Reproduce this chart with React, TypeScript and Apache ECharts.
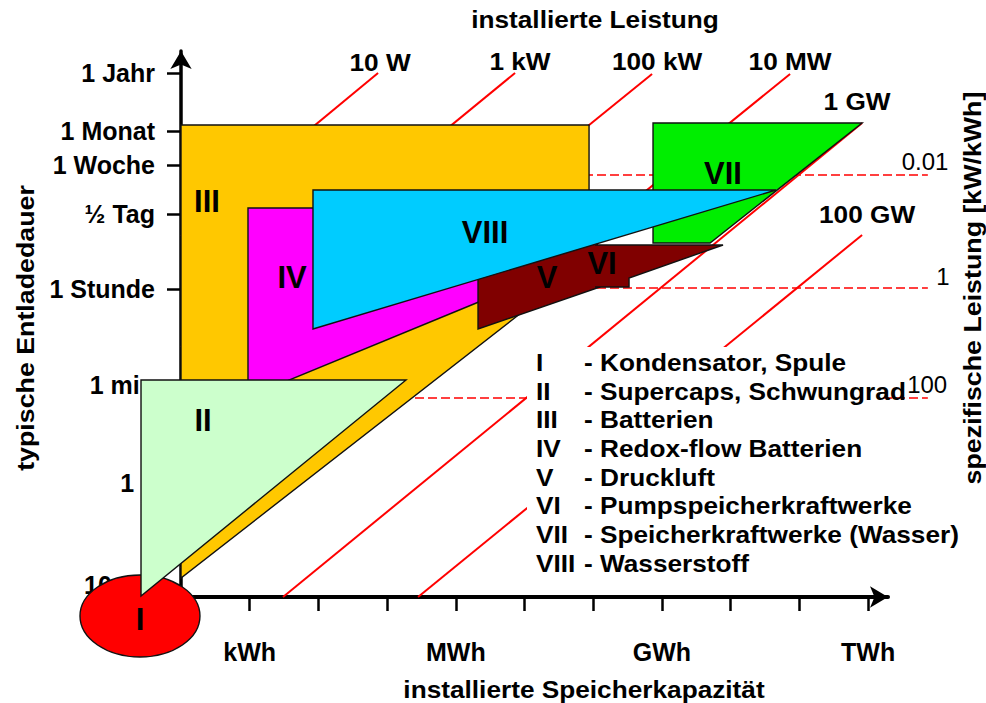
import React, { useEffect, useRef } from 'react';
import * as echarts from 'echarts';

const FONT = '"Liberation Sans", Arial, Helvetica, sans-serif';
const WIDEN = 1.14;

// Horizontal axis: log10 of installed storage capacity (Wh)
const xTickValues = [3, 4, 5, 6, 7, 8, 9, 10, 11, 12];
const xLabelValues = [3, 6, 9, 12];
const xLabels = ['kWh', 'MWh', 'GWh', 'TWh'];

// Vertical axis: typical discharge duration (position on the drawn scale)
const yTickValues = [1.2, 11.4, 21.2, 30.8, 38.3, 43.2, 46.6, 52.4];
const yLabels = ['10 ms', '1 s', '1 min', '1 Stunde', '½ Tag', '1 Woche', '1 Monat', '1 Jahr'];

// Technology regions [x, y]
const regionICenter = [1.403, -1.9];
const regionIRadius = [0.873, 4.1];
const regionII = [[1.418, 21.7], [5.275, 21.7], [1.418, 0.1]];
const regionIII = [[2, 47.2], [7.939, 47.2], [7.939, 33.7], [2, 1.9]];
const regionIV = [[2.975, 38.9], [6.934, 38.9], [6.934, 31.2], [2.975, 20.0]];
const regionV = [[6.323, 32.1], [8.055, 35.6], [8.099, 31.0], [6.323, 26.8]];
const regionVI = [[8.026, 35.2], [9.889, 35.2], [8.521, 31.9], [8.521, 31.0], [8.026, 31.0]];
const regionVII = [[8.87, 47.4], [11.913, 47.4], [9.7, 35.4], [8.87, 35.4]];
const regionVIII = [[3.921, 40.7], [10.661, 40.7], [3.921, 26.8]];

const regionNames = ['I', 'II', 'III', 'IV', 'V', 'VI', 'VII', 'VIII'];
const regionColors = ['#FF0000', '#CCFFCC', '#FFC800', '#FF00FF', '#800000', '#800000', '#00EE00', '#00CCFF'];
const regionLabelPos = [
  [1.403, -2.2], [2.32, 17.7], [2.378, 39.6], [3.616, 32.0],
  [7.327, 32.0], [8.128, 33.4], [9.889, 42.4], [6.425, 36.5],
];
const legendNames = [
  'Kondensator, Spule',
  'Supercaps, Schwungrad',
  'Batterien',
  'Redox-flow Batterien',
  'Druckluft',
  'Pumpspeicherkraftwerke',
  'Speicherkraftwerke (Wasser)',
  'Wasserstoff',
];

// Installed power lines
const powerNames = ['10 W', '1 kW', '100 kW', '10 MW', '1 GW', '100 GW'];
const powerLineStart = [[2, 36.1], [2, 25.0], [2, 14.1], [2, 2.9], [3.485, 0], [5.45, 0]];
const powerLineEnd = [[4.868, 52.4], [6.862, 52.4], [8.856, 52.3], [10.865, 52.3], [11.913, 47.4], [11.913, 36.2]];
const powerLabelPos = [[4.897, 53.4], [6.934, 53.5], [8.929, 53.5], [10.865, 53.5], [11.84, 49.5], [11.985, 38.2]];

// Specific power lines (kW/kWh)
const specNames = ['0.01', '1', '100'];
const specLevels = [42.2, 30.9, 19.9];
const specLineFrom = 2;
const specLineTo = 12.87;
const specLabelPos = [[12.83, 43.6], [13.09, 32.1], [12.86, 21.3]];

const drawOrder = [2, 3, 4, 5, 6, 7, 0, 1];
const regionPolys: any[] = [null, regionII, regionIII, regionIV, regionV, regionVI, regionVII, regionVIII];

function findLabel(values: number[], labels: string[], v: number) {
  for (let k = 0; k < values.length; k++) if (Math.abs(values[k] - v) < 1e-6) return labels[k];
  return '';
}

function gText(text: string, x: number, y: number, opts: any = {}) {
  const align = opts.align || 'center';
  return {
    type: 'text',
    x,
    y,
    rotation: opts.rotation || 0,
    scaleX: opts.scaleX || 1,
    z: 6,
    silent: true,
    style: {
      text,
      fill: '#000',
      fontSize: opts.fontSize || 23,
      fontWeight: opts.fontWeight || 'bold',
      fontFamily: FONT,
      align,
      textAlign: align,
      verticalAlign: 'middle',
      textVerticalAlign: 'middle',
    },
  };
}

export default function App() {
  const ref = useRef<HTMLDivElement>(null);
  useEffect(() => {
    if (!ref.current) return;
    const chart = echarts.init(ref.current, null, { renderer: 'svg' });
    const stroke = '#111';
    const lw = 1.4;

    const legendElements: any[] = [];
    legendNames.forEach((name, i) => {
      const y = 363 + i * 28.7;
      legendElements.push(gText(regionNames[i], 536, y, { align: 'left', scaleX: WIDEN }));
      legendElements.push(gText('- ' + name, 584, y, { align: 'left', scaleX: WIDEN }));
    });

    const option: any = {
      animation: false,
      backgroundColor: '#fff',
      grid: { left: 181, right: 98, top: 51, bottom: 106, containLabel: false, outerBoundsMode: 'none' },
      xAxis: {
        type: 'value',
        min: 2,
        max: 12.29,
        splitLine: { show: false },
        axisLine: {
          show: true,
          onZero: false,
          symbol: ['none', 'arrow'],
          symbolSize: [16, 18],
          lineStyle: { color: '#000', width: 4 },
        },
        axisTick: { show: true, customValues: xTickValues, length: 14, lineStyle: { color: '#000', width: 2.5 } },
        axisLabel: {
          customValues: xLabelValues,
          formatter: (v: number) => findLabel(xLabelValues, xLabels, v),
          margin: 42,
          fontSize: 25,
          fontWeight: 'bold',
          fontFamily: FONT,
          color: '#000',
        },
      },
      yAxis: {
        type: 'value',
        min: 0,
        max: 54.6,
        splitLine: { show: false },
        axisLine: {
          show: true,
          onZero: false,
          symbol: ['none', 'arrow'],
          symbolSize: [16, 18],
          lineStyle: { color: '#000', width: 3.5 },
        },
        axisTick: { show: true, customValues: yTickValues, length: 14, lineStyle: { color: '#000', width: 2.5 } },
        axisLabel: {
          customValues: yTickValues,
          formatter: (v: number) => findLabel(yTickValues, yLabels, v),
          margin: 26,
          fontSize: 25,
          lineHeight: 24,
          fontWeight: 'bold',
          fontFamily: FONT,
          color: '#000',
        },
      },
      series: [
        {
          type: 'custom',
          name: 'Leistung',
          z: 1,
          silent: true,
          clip: false,
          data: powerLineEnd,
          renderItem: (params: any, api: any) => {
            const i = params.dataIndex;
            const a = api.coord(powerLineStart[i]);
            const b = api.coord(powerLineEnd[i]);
            return {
              type: 'line',
              shape: { x1: a[0], y1: a[1], x2: b[0], y2: b[1] },
              style: { stroke: '#FF0000', lineWidth: 2 },
            };
          },
        },
        {
          type: 'custom',
          name: 'spezifische Leistung',
          z: 1,
          silent: true,
          clip: false,
          data: specLevels.map((u) => [specLineTo, u]),
          renderItem: (params: any, api: any) => {
            const i = params.dataIndex;
            const a = api.coord([specLineFrom, specLevels[i]]);
            const b = api.coord([specLineTo, specLevels[i]]);
            return {
              type: 'line',
              shape: { x1: a[0], y1: a[1], x2: b[0], y2: b[1] },
              style: { stroke: '#FF0000', lineWidth: 1.6, lineDash: [9, 4] },
            };
          },
        },
        {
          type: 'custom',
          name: 'Speicher',
          z: 2,
          silent: true,
          clip: false,
          data: drawOrder.map((k) => regionLabelPos[k]),
          renderItem: (params: any, api: any) => {
            const k = drawOrder[params.dataIndex];
            if (k === 0) {
              const c = api.coord(regionICenter);
              const r = api.size(regionIRadius);
              return {
                type: 'ellipse',
                shape: { cx: c[0], cy: c[1], rx: Math.abs(r[0]), ry: Math.abs(r[1]) },
                style: { fill: regionColors[0], stroke, lineWidth: lw },
              };
            }
            const pts = regionPolys[k].map((p: number[]) => api.coord(p));
            if (k === 5) {
              return {
                type: 'group',
                children: [
                  { type: 'polygon', shape: { points: pts }, style: { fill: regionColors[k], lineWidth: 0 } },
                  { type: 'polyline', shape: { points: pts }, style: { fill: null, stroke, lineWidth: lw } },
                ],
              };
            }
            return { type: 'polygon', shape: { points: pts }, style: { fill: regionColors[k], stroke, lineWidth: lw } };
          },
        },
        {
          type: 'custom',
          name: 'Beschriftung',
          z: 3,
          silent: true,
          clip: false,
          data: regionLabelPos,
          renderItem: (params: any, api: any) => {
            const i = params.dataIndex;
            const p = api.coord(regionLabelPos[i]);
            return {
              type: 'text',
              x: p[0],
              y: p[1],
              style: {
                text: regionNames[i],
                fill: '#000',
                fontSize: 31,
                lineHeight: 24,
                fontWeight: 'bold',
                fontFamily: FONT,
                align: 'center',
                verticalAlign: 'middle',
              },
            };
          },
        },
        {
          type: 'custom',
          name: 'Leistungsbeschriftung',
          z: 3,
          silent: true,
          clip: false,
          data: powerLabelPos,
          renderItem: (params: any, api: any) => {
            const i = params.dataIndex;
            const p = api.coord(powerLabelPos[i]);
            return {
              type: 'text',
              x: p[0],
              y: p[1],
              scaleX: WIDEN,
              style: {
                text: powerNames[i],
                fill: '#000',
                fontSize: 23,
                fontWeight: 'bold',
                fontFamily: FONT,
                align: 'center',
                verticalAlign: 'middle',
              },
            };
          },
        },
        {
          type: 'custom',
          name: 'spezifische Beschriftung',
          z: 3,
          silent: true,
          clip: false,
          data: specLabelPos,
          renderItem: (params: any, api: any) => {
            const i = params.dataIndex;
            const p = api.coord(specLabelPos[i]);
            return {
              type: 'text',
              x: p[0],
              y: p[1],
              style: {
                text: specNames[i],
                fill: '#000',
                fontSize: 24,
                fontWeight: 'normal',
                fontFamily: FONT,
                align: 'center',
                verticalAlign: 'middle',
              },
            };
          },
        },
      ],
      graphic: {
        elements: [
          {
            type: 'rect',
            z: 5,
            silent: true,
            shape: { x: 527, y: 347, width: 353, height: 233 },
            style: { fill: '#fff' },
          },
          ...legendElements,
          gText('installierte Leistung', 595, 20, { scaleX: WIDEN }),
          gText('installierte Speicherkapazität', 584, 690, { scaleX: WIDEN }),
          gText('typische Entladedauer', 26, 328, { scaleX: WIDEN, rotation: Math.PI / 2, fontSize: 23.5 }),
          gText('spezifische Leistung [kW/kWh]', 973, 288, { scaleX: WIDEN, rotation: Math.PI / 2, fontSize: 23.5 }),
        ],
      },
    };
    chart.setOption(option);
    return () => chart.dispose();
  }, []);
  return <div ref={ref} style={{ position: 'absolute', left: 0, top: 0, width: 986, height: 703 }} />;
}
